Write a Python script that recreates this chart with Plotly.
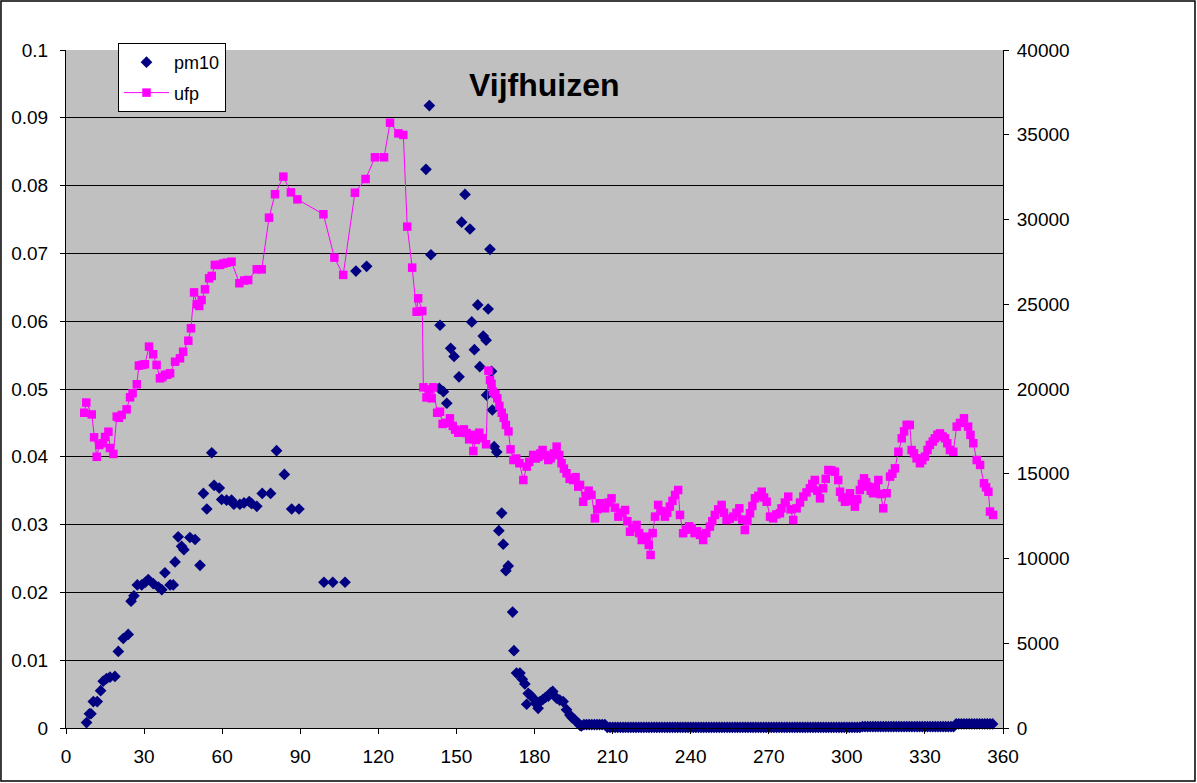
import plotly.graph_objects as go

# wind direction (degrees) and values
ufp_deg = [7.0, 7.8, 9.9, 10.8, 11.8, 12.8, 14.2, 15.0, 16.3, 16.9, 18.2, 19.5, 20.3, 21.4,
           23.3, 24.6, 25.6, 27.2, 28.0, 29.3, 30.3, 31.9, 33.5, 34.8, 36.1, 37.0, 38.0, 39.0,
           40.0, 41.9, 43.8, 45.0, 47.0, 48.0, 49.2, 50.3, 51.2, 52.1, 53.4, 55.0, 56.0, 57.2,
           59.2, 60.4, 61.7, 63.6, 66.6, 68.5, 70.0, 73.3, 75.2, 78.0, 80.3, 83.5, 86.4, 88.9,
           98.9, 103.1, 106.5, 111.0, 115.1, 118.7, 122.2, 124.5, 127.7, 129.6, 131.1, 133.0,
           134.7, 135.3, 136.9,
           137.3, 138.5, 139.6, 140.5, 141.1, 142.6, 143.7, 144.7, 146.0, 147.5, 148.6, 149.5,
           150.7, 151.8, 152.9, 153.9, 154.9, 155.8, 156.5, 157.5, 158.8, 160.0, 161.4, 162.3,
           162.9, 163.5, 164.1, 165.0, 165.7, 166.5, 167.4, 168.2, 169.0, 170.0, 170.8, 171.9,
           173.0, 174.2, 175.7, 177.0, 178.0, 179.5, 180.5, 181.5, 182.3, 183.1, 184.2, 185.3,
           186.2, 187.4, 188.5, 189.5, 190.4, 191.3, 192.3, 193.5, 194.9, 195.8, 196.8, 197.5,
           198.7, 199.8, 200.8, 201.9, 203.2, 204.1, 205.1, 206.1, 207.1, 208.4, 209.6, 210.9,
           212.2, 213.5, 214.8, 215.7, 216.7, 217.9, 219.2, 220.2, 221.2, 222.1, 223.1, 223.9,
           224.6, 225.4, 226.3, 227.5, 228.7, 230.1, 231.0, 232.0, 233.0, 234.0, 235.2, 235.9,
           237.1, 238.3, 239.4, 240.4, 241.5, 242.5, 243.6, 244.8, 246.0, 247.4, 248.3, 249.3,
           250.6, 251.9, 252.8, 253.8, 255.0, 256.4, 257.6, 258.7, 259.8, 260.8, 261.8, 262.8,
           263.7, 264.7, 266.0, 267.3, 268.2, 269.2, 270.5, 271.7, 272.9, 274.3, 274.9, 276.2,
           277.5, 278.4, 279.4, 280.7, 282.0, 283.3, 284.5, 285.8, 286.7, 287.7, 288.7, 289.7,
           290.9, 291.9, 292.9, 294.1, 295.4, 296.7, 297.4, 298.3, 299.3, 300.2, 301.2, 302.1,
           303.1, 304.0, 305.0, 305.8, 306.6, 307.4, 308.2, 309.2, 310.1, 311.1, 312.1, 313.0,
           314.0, 315.3, 316.6, 317.5, 318.5, 319.8, 321.1, 322.0, 323.0, 324.2, 324.9, 325.8,
           326.8, 328.1, 329.0, 330.0, 331.0, 331.9, 333.0, 333.8, 334.8, 335.8, 336.8, 337.7,
           338.6, 339.6, 340.9, 342.2, 343.5, 345.0, 346.6, 347.5, 348.6, 349.9, 351.2, 352.7,
           353.5, 354.4, 355.0, 356.2]
ufp_val = [18600, 19200, 18500, 17150, 16000, 16700, 16800, 17170, 17480, 16520, 16170, 18370, 18300, 18470,
           18800, 19510, 19750, 20280, 21380, 21420, 21460, 22500, 22050, 21420, 20630, 20700, 20830, 20850,
           20930, 21610, 21810, 22200, 22850, 23580, 25700, 25000, 24900, 25250, 25880, 26530, 26670, 27320,
           27320, 27400, 27450, 27510, 26240, 26400, 26430, 27060, 27060, 30110, 31490, 32530, 31600, 31190,
           30310, 27750, 26730, 31580, 32390, 33670, 33670, 35710, 35080, 34990, 29580, 27160,
           24560, 25350, 24600,
           20100, 19500, 19980, 19450, 20100, 18600, 18660, 17940, 18000, 18270, 17820, 17600,
           17420, 17500, 17620, 17400, 17030, 17300, 16340, 17000, 17420, 17100, 16740, 21080,
           20530, 20300, 19840, 19700, 19450, 19000, 18600, 18300, 17880, 17500, 16440, 15810,
           15900, 15620, 14630, 15420, 15700, 16110, 15900, 16000, 16200, 16400, 16100, 15810,
           15910, 16200, 16600, 16100, 15620, 15300, 15030, 14700, 14630, 14800, 14240, 14340,
           13350, 13700, 14000, 13750, 12370, 12900, 13260, 13000, 12960, 13300, 13550, 13000,
           12470, 12700, 12860, 12200, 11580, 11800, 11980, 11500, 11090, 11200, 11290, 10800,
           10210, 11500, 12470, 13160, 12800, 12470, 12700, 13060, 13400, 13750, 14040, 12570,
           11490, 11700, 11900, 11790, 11500, 11600, 11390, 11090, 11500, 11880, 12200, 12570,
           12900, 13160, 12700, 12270, 12350, 12470, 12700, 12960, 12300, 11680, 12200, 12670,
           13100, 13550, 13700, 13940, 13600, 13350, 12470, 12370, 12600, 12670, 12960, 13300,
           13650, 12900, 12270, 12960, 13300, 13650, 13900, 14140, 14400, 14630, 14000, 13550,
           14140, 14700, 15220, 15200, 15120, 14630, 13940, 13600, 13350, 13600, 13850, 13400,
           13060, 13500, 14040, 14400, 14730, 14500, 14240, 14000, 13850, 14200, 14630, 13800,
           12960, 13850, 14830, 15000, 15320, 16300, 17090, 17500, 17880, 17880, 16400, 16200,
           15910, 15620, 15800, 16010, 16400, 16700, 16900, 17090, 17300, 17380, 17200, 17090,
           16800, 16400, 16300, 17780, 18000, 18270, 17780, 17290, 16800, 15810, 15520, 14440,
           14200, 13940, 12770, 12570]

pm10_deg = [7.9, 9.0, 9.6, 10.5, 12.0, 13.3, 14.3, 15.6, 16.9, 18.8, 20.1, 22.0, 23.9, 25.0,
            26.1, 27.4, 29.1, 30.5, 31.6, 33.5, 35.5, 36.8, 38.0, 40.0, 41.2, 41.9, 43.1, 44.4,
            45.3, 47.6, 49.6, 51.5, 52.8, 54.1, 56.0, 56.9, 58.9, 59.8, 61.7, 63.6, 64.5, 66.8,
            68.4, 70.4, 71.3, 73.3, 75.4, 78.6, 80.9, 83.9, 86.7, 89.5, 99.1, 102.5, 107.2,
            111.4, 115.5, 138.3, 139.6, 140.2, 143.4, 143.7, 145.0, 146.3, 147.8, 149.1, 151.0,
            152.0, 153.3, 155.2, 155.9, 156.9, 158.2, 159.0, 160.3, 161.4, 161.6, 162.2, 162.9,
            163.5, 163.8, 164.5, 165.5, 166.3, 167.4, 168.0, 169.0, 169.9, 171.6, 172.1, 173.1,
            174.4, 175.3, 176.3, 177.0, 177.6, 178.5, 179.5, 180.5, 181.4, 182.1, 183.2, 184.2,
            185.3, 186.2, 187.0, 188.5, 189.7, 191.0, 192.3, 193.6, 194.5, 195.5, 196.5, 197.5,
            198, 199, 200, 201, 202, 203, 204, 205, 206, 207, 208, 209, 210, 211, 212, 213, 214,
            215, 216, 217, 218, 219, 220, 221, 222, 223, 224, 225, 226, 227, 228, 229, 230, 231,
            232, 233, 234, 235, 236, 237, 238, 239, 240, 241, 242, 243, 244, 245, 246, 247, 248,
            249, 250, 251, 252, 253, 254, 255, 256, 257, 258, 259, 260, 261, 262, 263, 264, 265,
            266, 267, 268, 269, 270, 271, 272, 273, 274, 275, 276, 277, 278, 279, 280, 281, 282,
            283, 284, 285, 286, 287, 288, 289, 290, 291, 292, 293, 294, 295, 296, 297, 298, 299,
            300, 301, 302, 303, 304, 305, 306, 307, 308, 309, 310, 311, 312, 313, 314, 315, 316,
            317, 318, 319, 320, 321, 322, 323, 324, 325, 326, 327, 328, 329, 330, 331, 332, 333,
            334, 335, 336, 337, 338, 339, 340, 341, 342, 343, 344, 345, 346, 347, 348, 349, 350,
            351, 352, 353, 354, 355, 356]
pm10_val = [0.0008, 0.0021, 0.0021, 0.0039, 0.0039, 0.0055, 0.0069, 0.0073, 0.0075, 0.0076, 0.0113, 0.0132, 0.0138, 0.0187,
            0.0195, 0.0211, 0.0211, 0.0215, 0.0219, 0.0213, 0.0208, 0.0204, 0.0229, 0.0211, 0.0211, 0.0245, 0.0282, 0.0268,
            0.0263, 0.0281, 0.0278, 0.0240, 0.0346, 0.0323, 0.0406, 0.0358, 0.0354, 0.0337, 0.0336, 0.0336, 0.0330, 0.0330,
            0.0332, 0.0334, 0.0331, 0.0327, 0.0346, 0.0346, 0.0409, 0.0374, 0.0323, 0.0323, 0.0215, 0.0215, 0.0215,
            0.0674, 0.0681, 0.0824, 0.0918, 0.0698, 0.0501, 0.0594, 0.0496, 0.0479, 0.0560, 0.0548, 0.0518,
            0.0746, 0.0787, 0.0736, 0.0599, 0.0558, 0.0624, 0.0533, 0.0578, 0.0572, 0.0491, 0.0618, 0.0706,
            0.0526, 0.0469, 0.0415, 0.0407, 0.0291, 0.0317, 0.0271, 0.0232, 0.0239, 0.0171, 0.0114, 0.0081,
            0.0081, 0.0072, 0.0065, 0.0035, 0.0051, 0.0048, 0.0044, 0.0036, 0.0029, 0.0039, 0.0042, 0.0045,
            0.0047, 0.0052, 0.0054, 0.0044, 0.0041, 0.0039, 0.0027, 0.0019, 0.0015, 0.0012, 0.0008, 0.0004,
            0.0003, 0.0005, 0.0005, 0.0005, 0.0005, 0.0005, 0.0005, 0.0005, 0.0005, 0.0005,
            0.0001, 0.0001, 0.0001, 0.0001, 0.0001, 0.0001, 0.0001, 0.0001, 0.0001, 0.0001, 0.0001, 0.0001, 0.0001, 0.0001,
            0.0001, 0.0001, 0.0001, 0.0001, 0.0001, 0.0001, 0.0001, 0.0001, 0.0001, 0.0001, 0.0001, 0.0001, 0.0001, 0.0001,
            0.0001, 0.0001, 0.0001, 0.0001, 0.0001, 0.0001, 0.0001, 0.0001, 0.0001, 0.0001, 0.0001, 0.0001, 0.0001, 0.0001,
            0.0001, 0.0001, 0.0001, 0.0001, 0.0001, 0.0001, 0.0001, 0.0001, 0.0001, 0.0001, 0.0001, 0.0001, 0.0001, 0.0001,
            0.0001, 0.0001, 0.0001, 0.0001, 0.0001, 0.0001, 0.0001, 0.0001, 0.0001, 0.0001, 0.0001, 0.0001, 0.0001, 0.0001,
            0.0001, 0.0001, 0.0001, 0.0001, 0.0001, 0.0001, 0.0001, 0.0001, 0.0001, 0.0001, 0.0001, 0.0001, 0.0001, 0.0001,
            0.0001, 0.0001, 0.0001, 0.0001, 0.0001, 0.0001, 0.0001, 0.0001, 0.0001, 0.0001, 0.0001, 0.0001, 0.0001, 0.0001,
            0.0002, 0.0002, 0.0002, 0.0002, 0.0002, 0.0002, 0.0002, 0.0002, 0.0002, 0.0002, 0.0002, 0.0002,
            0.0002, 0.0002, 0.0002, 0.0002, 0.0002, 0.0002, 0.0002, 0.0002, 0.0002, 0.0002, 0.0002, 0.0002,
            0.0002, 0.0002, 0.0002, 0.0002, 0.0002, 0.0002, 0.0002, 0.0002, 0.0002, 0.0002, 0.0002, 0.0002,
            0.0006, 0.0006, 0.0006, 0.0006, 0.0006, 0.0006, 0.0006, 0.0006, 0.0006, 0.0006, 0.0006, 0.0006,
            0.0006, 0.0006, 0.0006]

x_ticks = [0, 30, 60, 90, 120, 150, 180, 210, 240, 270, 300, 330, 360]
pm10_ticks = [0, 0.01, 0.02, 0.03, 0.04, 0.05, 0.06, 0.07, 0.08, 0.09, 0.1]
ufp_ticks = [0, 5000, 10000, 15000, 20000, 25000, 30000, 35000, 40000]

FONT = "Liberation Sans, Arial, sans-serif"

fig = go.Figure()
fig.add_trace(go.Scatter(
    x=pm10_deg, y=pm10_val, name="pm10", mode="markers", cliponaxis=False,
    legendgroup="a",
    marker=dict(symbol="diamond", size=9, color="#000080"),
))
fig.add_trace(go.Scatter(
    x=ufp_deg, y=ufp_val, name="ufp", mode="lines+markers", yaxis="y2", cliponaxis=False,
    legendgroup="b",
    line=dict(color="#FF00FF", width=1),
    marker=dict(symbol="square", size=8.5, color="#FF00FF"),
))

axis_font = dict(family=FONT, size=19, color="black")
fig.update_layout(
    width=1197, height=783,
    margin=dict(l=66, r=194, t=50, b=55, autoexpand=False),
    paper_bgcolor="white",
    plot_bgcolor="#C0C0C0",
    font=dict(family=FONT, color="black"),
    xaxis=dict(range=[0, 360], tickvals=x_ticks, showgrid=False, zeroline=False,
               showline=True, linecolor="black", linewidth=1,
               ticks="outside", ticklen=5, tickcolor="black", tickfont=axis_font,
               ticklabelstandoff=6),
    yaxis=dict(range=[0, 0.1], tickvals=pm10_ticks, tickformat="~g",
               showgrid=True, gridcolor="black", gridwidth=1, zeroline=False,
               showline=True, linecolor="black", linewidth=1,
               ticks="outside", ticklen=5, tickcolor="black", tickfont=axis_font,
               ticklabelstandoff=8),
    yaxis2=dict(range=[0, 40000], tickvals=ufp_ticks, tickformat="d", overlaying="y",
                side="right", showgrid=False, zeroline=False,
                showline=True, linecolor="black", linewidth=1,
                ticks="outside", ticklen=5, tickcolor="black", tickfont=axis_font,
                ticklabelstandoff=4),
    legend=dict(x=0.0555, y=1.0103, xanchor="left", yanchor="top",
                bgcolor="white", bordercolor="black", borderwidth=1,
                font=dict(family=FONT, size=18, color="black"),
                itemwidth=45, traceorder="grouped", tracegroupgap=4),
    showlegend=True,
    annotations=[dict(text="<b>Vijfhuizen</b>", x=0.511, y=0.948, xref="paper", yref="paper",
                      xanchor="center", yanchor="middle", showarrow=False,
                      font=dict(family=FONT, size=32, color="black"))],
    shapes=[dict(type="rect", xref="paper", yref="paper",
                 x0=-0.0694, x1=1.2049, y0=-0.0782, y1=1.0723,
                 line=dict(color="black", width=1.5), fillcolor="rgba(0,0,0,0)")],
)

# drop the default page margin so the figure sits at the window's top-left corner
fig.write_html("out.html", config={"displayModeBar": False},
               post_script="document.body.style.margin='0';")
